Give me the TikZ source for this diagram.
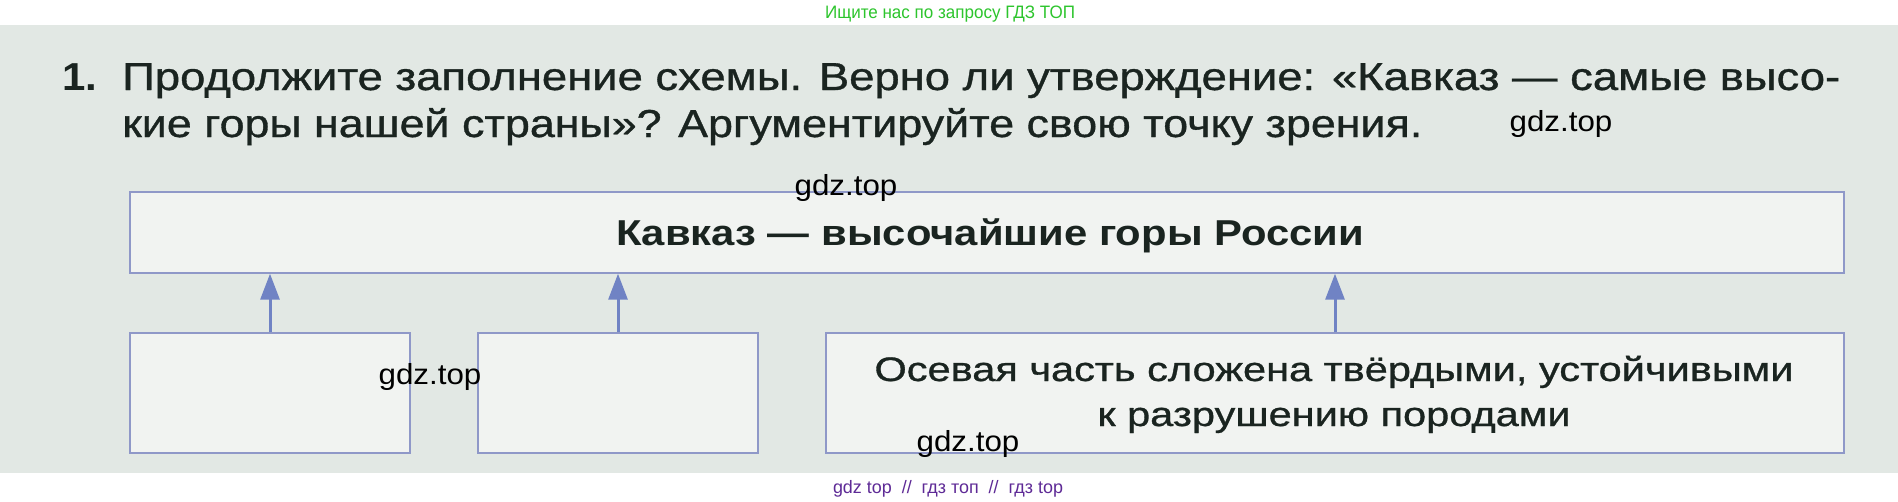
\documentclass[tikz,border=0pt]{standalone}
\usepackage{graphicx}
\usepackage{fontspec}
\setmainfont{Liberation Sans}
\newfontfamily\bookfont[FakeBold=0.8]{Liberation Sans}
\usetikzlibrary{arrows.meta}
\definecolor{scanbg}{HTML}{E2E8E4}
\definecolor{boxfill}{HTML}{F1F3F1}
\definecolor{boxline}{HTML}{8F98C8}
\definecolor{arrowc}{HTML}{7083C4}
\definecolor{ink}{HTML}{1A2420}
\definecolor{sitegreen}{HTML}{2DC52D}
\definecolor{sitepurple}{HTML}{5E2A96}
\newcommand{\fsz}[1]{\fontsize{#1}{#1}\selectfont}
\newcommand{\wide}[2]{\resizebox{#1}{\height}{#2}}
\newsavebox\measbox
\begin{document}
\sbox\measbox{\bookfont\fsz{34pt}Осевая часть сложена твёрдыми, устойчивыми}%
\pgfmathsetmacro\bfac{919/\the\wd\measbox}%
\begin{tikzpicture}[x=1pt,y=-1pt,
  box/.style={draw=boxline, line width=1.4pt, fill=boxfill, inner sep=0pt},
  arr/.style={draw=arrowc, line width=3pt, -{Triangle[length=26pt,width=19pt]}},
  qtext/.style={text=ink, inner sep=0pt, anchor=base west, font=\bookfont\fsz{39pt}},
  btext/.style={text=ink, inner sep=0pt, anchor=base, font=\bookfont\fsz{34pt}},
  wm/.style={text=black, inner sep=0pt, anchor=base, font=\fsz{29pt}},
  site/.style={inner sep=0pt, anchor=base, font=\fsz{18pt}}]
\useasboundingbox (0,0) rectangle (1898,501);
\fill[white] (0,0) rectangle (1898,501);
\fill[scanbg] (0,25) rectangle (1898,473);

% site banners
\node[site, text=sitegreen] (hdr) at (950,18) {\wide{250pt}{Ищите нас по запросу ГДЗ ТОП}};
\node[site, text=sitepurple] (ftr) at (948,493) {\wide{230pt}{gdz top\ \ //\ \ гдз топ\ \ //\ \ гдз top}};

% question
\node[qtext, font=\fsz{39pt}\bfseries] (num) at (62,90) {\wide{35pt}{1.}};
\node[qtext] (q1) at (122,90) {\wide{1718pt}{Продолжите заполнение схемы. Верно ли утверждение: «Кавказ — самые высо-}};
\node[qtext] (q2) at (122,137) {\wide{1300pt}{кие горы нашей страны»? Аргументируйте свою точку зрения.}};

% boxes
\node[box, minimum width=1714pt, minimum height=81pt] (top) at (987,232.5) {};
\node[box, minimum width=280pt, minimum height=120pt] (b1) at (270,393) {};
\node[box, minimum width=280pt, minimum height=120pt] (b2) at (618,393) {};
\node[box, minimum width=1018pt, minimum height=120pt] (b3) at (1335,393) {};

% box texts
\node[btext, font=\fsz{36pt}\bfseries] (toptext) at (990,245) {\wide{748pt}{Кавказ — высочайшие горы России}};
\node[btext] (b3a) at (1334,381) {\scalebox{\bfac}[1]{Осевая часть сложена твёрдыми, устойчивыми}};
\node[btext] (b3b) at (1334,426) {\scalebox{\bfac}[1]{к разрушению породами}};

% arrows
\draw[arr] (b1.north) -- (b1.north |- top.south);
\draw[arr] (b2.north) -- (b2.north |- top.south);
\draw[arr] (b3.north) -- (b3.north |- top.south);

% watermarks
\node[wm] (w1) at (1561,131) {\scalebox{1.08}[1]{gdz.top}};
\node[wm] (w2) at (846,195) {\scalebox{1.08}[1]{gdz.top}};
\node[wm] (w3) at (430,384) {\scalebox{1.08}[1]{gdz.top}};
\node[wm] (w4) at (968,451) {\scalebox{1.08}[1]{gdz.top}};
\end{tikzpicture}
\end{document}
